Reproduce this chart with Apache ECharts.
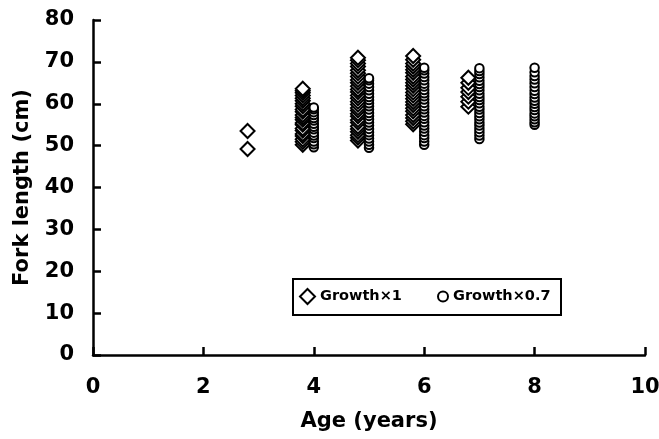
<!DOCTYPE html>
<html>
<head>
<meta charset="utf-8">
<script src="https://cdn.jsdelivr.net/npm/echarts@6/dist/echarts.min.js"></script>
<style>html,body{margin:0;padding:0;background:#fff}#c{width:659px;height:439px}</style>
</head>
<body>
<div id="c"></div>
<script>
// Growth x1 (diamonds): ages and fork lengths per age group
const growth1Ages = [2.8, 3.8, 4.8, 5.8, 6.8];
const growth1Lengths = [
  [49.2, 53.5],
  [50.2, 50.9, 51.5, 52.3, 52.8, 53.6, 54.1, 55.0, 55.4, 56.2, 56.7, 57.3, 58.1, 58.6, 59.4, 60.0, 60.7, 61.3, 62.0, 62.6, 63.1, 63.6],
  [51.2, 51.9, 52.5, 53.3, 54.0, 54.6, 55.5, 56.1, 57.0, 57.6, 58.4, 59.0, 59.8, 60.5, 61.3, 62.0, 62.8, 63.4, 64.2, 65.0, 65.7, 66.5, 67.3, 68.0, 68.9, 69.6, 70.4, 71.0],
  [55.1, 55.8, 56.6, 57.3, 58.2, 58.9, 59.7, 60.4, 61.2, 62.0, 62.7, 63.5, 64.3, 65.0, 65.8, 66.5, 67.4, 68.1, 68.9, 69.6, 70.5, 71.4],
  [59.3, 60.5, 61.7, 62.8, 63.8, 65.0, 66.2]
];
// Growth x0.7 (circles)
const growth07Ages = [4, 5, 6, 7, 8];
const growth07Lengths = [
  [49.6, 50.3, 51.0, 51.8, 52.4, 53.1, 53.9, 54.5, 55.2, 56.0, 56.6, 57.3, 58.0, 58.7, 59.1],
  [49.5, 50.2, 51.0, 51.7, 52.5, 53.2, 54.0, 54.8, 55.5, 56.3, 57.1, 57.8, 58.6, 59.4, 60.1, 60.9, 61.6, 62.4, 63.2, 64.0, 64.8, 65.6, 66.1],
  [50.2, 51.0, 51.8, 52.5, 53.3, 54.1, 54.8, 55.6, 56.4, 57.1, 57.9, 58.7, 59.4, 60.2, 61.0, 61.8, 62.5, 63.3, 64.1, 64.8, 65.6, 66.4, 67.2, 68.0, 68.6],
  [51.6, 52.4, 53.2, 54.0, 54.8, 55.5, 56.3, 57.0, 57.8, 58.6, 59.3, 60.1, 60.9, 61.6, 62.4, 63.2, 64.0, 64.7, 65.5, 66.3, 67.1, 67.8, 68.5],
  [55.0, 55.6, 56.3, 57.0, 57.7, 58.5, 59.2, 60.0, 60.7, 61.5, 62.3, 63.1, 64.0, 64.9, 65.8, 66.6, 67.5, 68.6]
];
const seriesNames = ['Growth\u00d71', 'Growth\u00d70.7'];
const xTitle = 'Age (years)';
const yTitle = 'Fork length (cm)';

function toPoints(ages, lengths) {
  const pts = [];
  ages.forEach((a, i) => lengths[i].forEach(v => pts.push([a, v])));
  return pts;
}

const FONT = '"DejaVu Sans", sans-serif';
const legendText = {fontFamily: FONT, fontWeight: 'bold', fontSize: 14.5, color: '#000'};
const chart = echarts.init(document.getElementById('c'), null, {renderer: 'canvas'});
chart.setOption({
  backgroundColor: '#fff',
  animation: false,
  grid: {left: 93, right: 14, top: 20, bottom: 84, containLabel: false, outerBoundsMode: 'none'},
  graphic: [{
    type: 'rect', left: 292, top: 278, z: 0,
    shape: {width: 268, height: 36},
    style: {fill: '#fff', stroke: '#000', lineWidth: 2}
  }],
  legend: [
    {
      left: 299, top: 288, padding: 0,
      itemWidth: 15, itemHeight: 15, itemGap: 0,
      textStyle: legendText,
      data: [{name: seriesNames[0], icon: 'diamond', itemStyle: {color: '#fff', borderColor: '#000', borderWidth: 2}}]
    },
    {
      left: 437, top: 289, padding: 0,
      itemWidth: 10, itemHeight: 10, itemGap: 0,
      textStyle: legendText,
      data: [{name: seriesNames[1], icon: 'circle', itemStyle: {color: '#fff', borderColor: '#000', borderWidth: 2}}]
    }
  ],
  xAxis: {
    type: 'value', min: 0, max: 10, interval: 2,
    name: xTitle, nameLocation: 'middle', nameGap: 56,
    nameTextStyle: {fontFamily: FONT, fontWeight: 'bold', fontSize: 21, color: '#000'},
    axisLine: {show: true, lineStyle: {color: '#000', width: 2.5}},
    axisTick: {show: true, inside: true, length: 8, lineStyle: {color: '#000', width: 2.5}},
    axisLabel: {fontFamily: FONT, fontWeight: 'bold', fontSize: 21, color: '#000', margin: 22},
    splitLine: {show: false}
  },
  yAxis: {
    type: 'value', min: 0, max: 80, interval: 10,
    name: yTitle, nameLocation: 'middle', nameGap: 60,
    nameTextStyle: {fontFamily: FONT, fontWeight: 'bold', fontSize: 21, color: '#000'},
    axisLine: {show: true, lineStyle: {color: '#000', width: 2.5}},
    axisTick: {show: true, inside: true, length: 8, lineStyle: {color: '#000', width: 2.5}},
    axisLabel: {fontFamily: FONT, fontWeight: 'bold', fontSize: 21, color: '#000', margin: 19},
    splitLine: {show: false}
  },
  series: [
    {
      name: seriesNames[0], type: 'scatter', symbol: 'diamond', symbolSize: 14,
      itemStyle: {color: '#fff', borderColor: '#000', borderWidth: 2, opacity: 1},
      data: toPoints(growth1Ages, growth1Lengths)
    },
    {
      name: seriesNames[1], type: 'scatter', symbol: 'circle', symbolSize: 8.5,
      itemStyle: {color: '#fff', borderColor: '#000', borderWidth: 2, opacity: 1},
      data: toPoints(growth07Ages, growth07Lengths)
    }
  ]
});
</script>
</body>
</html>
